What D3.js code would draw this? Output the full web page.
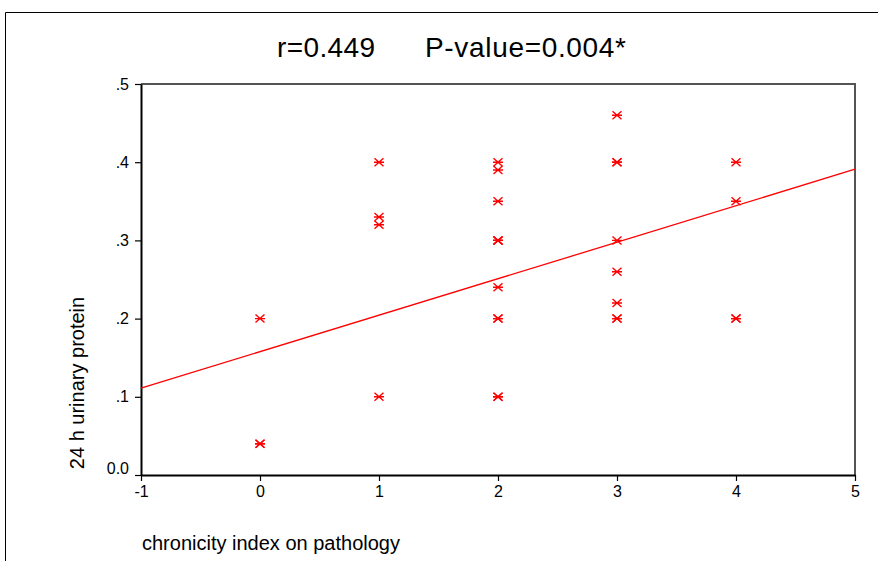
<!DOCTYPE html>
<html>
<head>
<meta charset="utf-8">
<script src="https://cdn.jsdelivr.net/npm/d3@7"></script>
<style>
  body { margin: 0; background: #fff; }
  svg { display: block; font-family: "Liberation Sans", Arial, sans-serif; }
</style>
</head>
<body>
<div id="chart"></div>
<script>
// chronicity index vs 24 h urinary protein

var chronicity = [0, 0, 0, 1, 1, 1, 1, 2, 2, 2, 2, 2, 2, 2, 2, 2, 2, 2, 3, 3, 3, 3, 3, 3, 3, 3, 4, 4, 4, 4];
var protein = [0.2, 0.04, 0.04, 0.4, 0.33, 0.32, 0.1, 0.4, 0.39, 0.35, 0.3, 0.3, 0.24, 0.2, 0.2, 0.1, 0.1, 0.3,
               0.46, 0.4, 0.4, 0.3, 0.26, 0.22, 0.2, 0.2, 0.4, 0.35, 0.2, 0.2];
var fitX = [-1, 5];
var fitY = [0.111, 0.391];
var xTicks = [-1, 0, 1, 2, 3, 4, 5];
var yTicks = [0, 0.1, 0.2, 0.3, 0.4, 0.5];
var yTickLabels = ["0.0", ".1", ".2", ".3", ".4", ".5"];

var W = 878, H = 561;
var margin = {top: 84, right: 23, bottom: 86, left: 141},
    width = W - margin.left - margin.right,
    height = H - margin.top - margin.bottom;

var svg = d3.select("#chart").append("svg")
    .attr("width", W)
    .attr("height", H);

// outer frame (top and left only visible)
svg.append("path")
    .attr("d", "M5.5," + H + "V12.5H" + W)
    .attr("fill", "none")
    .attr("stroke", "#000")
    .attr("stroke-width", 1);

var g = svg.append("g").attr("transform", "translate(" + margin.left + "," + margin.top + ")");

var x = d3.scaleLinear().domain([-1, 5]).range([0, width]);
var y = d3.scaleLinear().domain([0, 0.5]).range([height, 0]);

// top and right frame of plot
g.append("path")
    .attr("d", "M0,0H" + width + "V" + height)
    .attr("fill", "none")
    .attr("stroke", "#555")
    .attr("stroke-width", 2);

var xAxis = g.append("g")
    .attr("transform", "translate(0," + height + ")")
    .call(d3.axisBottom(x).tickValues(xTicks).tickFormat(function(d) { return String(d); })
      .tickSize(6).tickSizeOuter(0).tickPadding(5));

var yAxis = g.append("g")
    .call(d3.axisLeft(y).tickValues(yTicks).tickFormat(function(d, i) { return yTickLabels[i]; })
      .tickSize(6).tickSizeOuter(0).tickPadding(6));
yAxis.selectAll(".tick text").filter(function(d) { return d === 0; }).attr("dy", "-0.1em");

[xAxis, yAxis].forEach(function(a) {
  a.attr("font-size", 16).attr("font-family", "Liberation Sans, Arial, sans-serif");
  a.select(".domain").attr("stroke-width", 2);
  a.selectAll(".tick line").attr("stroke-width", 1.2);
  a.selectAll(".tick text").attr("fill", "#000");
});

// fit line
g.append("line")
    .attr("x1", x(fitX[0])).attr("y1", y(fitY[0]))
    .attr("x2", x(fitX[1])).attr("y2", y(fitY[1]))
    .attr("stroke", "#ff0000")
    .attr("stroke-width", 1.3);

// asterisk markers
var star = "M-5,0H5M-4.5,-4L4.5,4M-4.5,4L4.5,-4";
g.append("g")
  .selectAll("path")
  .data(chronicity)
  .enter().append("path")
    .attr("transform", function(d, i) { return "translate(" + x(d) + "," + y(protein[i]) + ")"; })
    .attr("d", star)
    .attr("fill", "none")
    .attr("stroke", "#ff0000")
    .attr("stroke-width", 1.4);

// titles
svg.append("text")
    .attr("x", 277).attr("y", 57)
    .attr("font-size", 28)
    .attr("textLength", 98)
    .text("r=0.449");
svg.append("text")
    .attr("x", 425).attr("y", 57)
    .attr("font-size", 28)
    .attr("textLength", 201)
    .text("P-value=0.004*");

svg.append("text")
    .attr("transform", "translate(77,383) rotate(-90)")
    .attr("text-anchor", "middle")
    .attr("dy", "0.35em")
    .attr("font-size", 20)
    .text("24 h urinary protein");

svg.append("text")
    .attr("x", 142).attr("y", 550)
    .attr("font-size", 20)
    .text("chronicity index on pathology");
</script>
</body>
</html>
